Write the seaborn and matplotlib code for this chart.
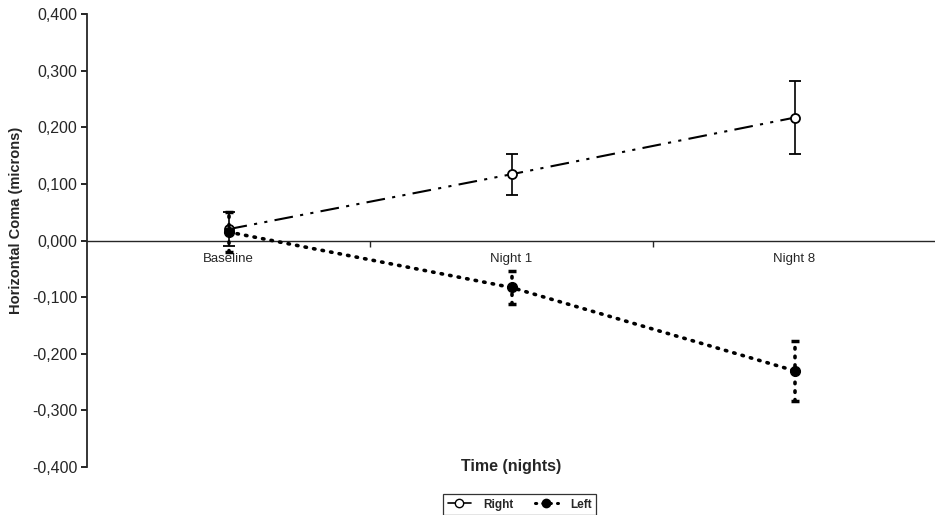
import numpy as np
import pandas as pd
import matplotlib
matplotlib.use("Agg")
import matplotlib.pyplot as plt
import seaborn as sns
from matplotlib.lines import Line2D
from matplotlib.ticker import FuncFormatter

# datos
tiempos = ["Baseline", "Night 1", "Night 8"]
right_media = [0.020, 0.117, 0.217]
right_err = [0.030, 0.036, 0.065]
left_media = [0.015, -0.083, -0.230]
left_err = [0.035, 0.030, 0.053]

sns.set_style("ticks")
plt.rcParams['font.family'] = ['Liberation Sans', 'DejaVu Sans']

df = pd.DataFrame({
    'tiempo': tiempos * 2,
    'valor': right_media + left_media,
    'lado': ['Right'] * 3 + ['Left'] * 3,
})

fig = plt.figure(figsize=(9.35, 5.15), dpi=100)
ax = fig.add_axes([87 / 935, 1 - 467 / 515, 849 / 935, (467 - 14) / 515])

sns.lineplot(data=df[df['lado'] == 'Right'], x='tiempo', y='valor', ax=ax,
             color='black', lw=1.5, dashes=False, legend=False, zorder=3)
sns.lineplot(data=df[df['lado'] == 'Left'], x='tiempo', y='valor', ax=ax,
             color='black', lw=2.6, legend=False, zorder=3)
l_right, l_left = ax.lines[0], ax.lines[1]
l_right.set_dashes((9, 3.5, 1.5, 3.5, 1.5, 3.5))
l_left.set_linestyle((0, (0.4, 2.0)))
l_left.set_dash_capstyle('round')

x = np.arange(len(tiempos))
ax.errorbar(x, right_media, yerr=right_err, fmt='o', ms=6.5, mfc='white',
            mec='black', mew=1.3, ecolor='black', elinewidth=1.2,
            capsize=4, capthick=1.2, zorder=4)
eb = ax.errorbar(x, left_media, yerr=left_err, fmt='o', ms=7, mfc='black',
                 mec='black', ecolor='black', elinewidth=2.6,
                 capsize=3, capthick=2.5, zorder=5)
for c in eb[2]:
    c.set_linestyle((0, (0.4, 2.0)))
    c.set_capstyle('round')


def fmt_coma(v, p):
    if abs(v) < 1e-9:
        v = 0.0
    return f"{v:.3f}".replace('.', ',')


ax.set_xlim(-0.5, 2.5)
ax.set_ylim(-0.4, 0.4)
ax.set_yticks(np.arange(-0.4, 0.41, 0.1))
ax.yaxis.set_major_formatter(FuncFormatter(fmt_coma))
ax.tick_params(axis='y', labelsize=11.5, length=4, width=1.2, direction='out',
               color='black', pad=3)

# eje x en cero, marcas entre categorias
ax.spines['bottom'].set_position(('data', 0))
ax.spines['top'].set_visible(False)
ax.spines['right'].set_visible(False)
ax.spines['left'].set_linewidth(1.3)
ax.spines['bottom'].set_linewidth(1.0)
ax.set_xticks([0.5, 1.5])
ax.set_xticklabels([])
ax.set_xticks(x, minor=True)
ax.set_xticklabels(tiempos, minor=True, fontsize=9.5)
ax.tick_params(axis='x', which='major', length=4, width=1.0, direction='out')
ax.tick_params(axis='x', which='minor', length=0, pad=9)

ax.set_xlabel('Time (nights)', fontsize=11.5, fontweight='bold')
ax.xaxis.set_label_coords(0.5, 0.0)
ax.xaxis.label.set_va('center')
ax.set_ylabel('Horizontal Coma (microns)', fontsize=10.5, fontweight='bold')
ax.yaxis.set_label_coords(-0.084, 0.545)
ax.yaxis.label.set_va('center')

handles = [
    Line2D([], [], color='black', lw=1.2, marker='o', ms=6, mfc='white', mec='black'),
    Line2D([], [], color='black', lw=2.2, ls=(0, (0.4, 2.0)), dash_capstyle='round',
           marker='o', ms=6, mfc='black'),
]
leg = fig.legend(handles, ['Right', 'Left'], ncol=2, loc='upper left',
                 bbox_to_anchor=(437 / 935, 1 - 488 / 515), frameon=True,
                 fancybox=False, edgecolor='black', handlelength=2.0,
                 prop={'weight': 'bold', 'size': 8.5}, borderpad=0.4,
                 columnspacing=1.8, handletextpad=1.0)
leg.get_frame().set_linewidth(0.9)

fig.savefig('out.png', dpi=100)
